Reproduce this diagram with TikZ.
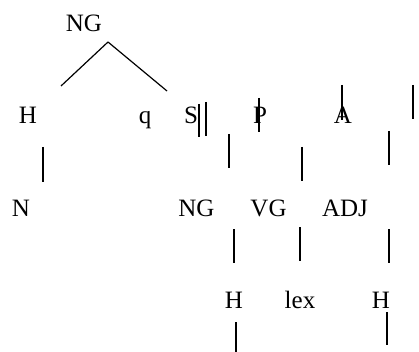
\documentclass[tikz,border=0pt]{standalone}
\usepackage{fontspec}
\setmainfont{Liberation Serif}

\begin{document}
\begin{tikzpicture}[x=1pt, y=-1pt, line width=1.5pt]
	\tikzstyle{word} = [draw=none, inner sep=0pt, anchor=base, font=\fontsize{25}{29}\selectfont]
	\useasboundingbox (0,0) rectangle (419,352);

	% row 1
	\node[word] at (84, 32) (ng) {NG};
	% row 2
	\node[word] at (28, 124) (ha) {H};
	\node[word] at (145, 124) (q) {q};
	\node[word] at (191, 124) (s) {S};
	\node[word] at (260, 124) (p) {P};
	\node[word] at (343, 124) (a) {A};
	% row 3
	\node[word] at (21, 216) (n) {N};
	\node[word] at (196.5, 216) (ngb) {NG};
	\node[word] at (268.5, 216) (vg) {VG};
	\node[word] at (345, 216) (adj) {ADJ};
	% row 4
	\node[word] at (234, 308) (hb) {H};
	\node[word] at (300, 308) (lex) {lex};
	\node[word] at (381, 308) (hc) {H};

	\coordinate (top) at (108, 42);
	\coordinate (l1) at (61, 86);
	\coordinate (r1) at (167, 91);
	\coordinate (n1) at (43, 147);		\coordinate (n2) at (43, 182);
	\coordinate (s1) at (199, 104);		\coordinate (s2) at (199, 137);
	\coordinate (s3) at (206, 102);		\coordinate (s4) at (206, 136);
	\coordinate (g1) at (229, 134);		\coordinate (g2) at (229, 168);
	\coordinate (p1) at (259, 98);		\coordinate (p2) at (259, 132);
	\coordinate (v1) at (302, 147);		\coordinate (v2) at (302, 181);
	\coordinate (a1) at (342, 85);		\coordinate (a2) at (342, 120);
	\coordinate (e1) at (413, 85);		\coordinate (e2) at (413, 119);
	\coordinate (d1) at (389, 131);		\coordinate (d2) at (389, 165);
	\coordinate (b1) at (234, 229);		\coordinate (b2) at (234, 263);
	\coordinate (x1) at (300, 227);		\coordinate (x2) at (300, 261);
	\coordinate (j1) at (389, 229);		\coordinate (j2) at (389, 263);
	\coordinate (h1) at (236, 322);		\coordinate (h2) at (236, 352);
	\coordinate (k1) at (387, 312);		\coordinate (k2) at (387, 345);

	\path[draw]
	(top)	edge[line width=1.2pt]	(l1)
	(top)	edge[line width=1.2pt]	(r1)
	(n1)	edge	(n2)
	(s1)	edge	(s2)
	(s3)	edge	(s4)
	(g1)	edge	(g2)
	(p1)	edge	(p2)
	(v1)	edge	(v2)
	(a1)	edge	(a2)
	(e1)	edge	(e2)
	(d1)	edge	(d2)
	(b1)	edge	(b2)
	(x1)	edge	(x2)
	(j1)	edge	(j2)
	(h1)	edge	(h2)
	(k1)	edge	(k2);
\end{tikzpicture}
\end{document}
